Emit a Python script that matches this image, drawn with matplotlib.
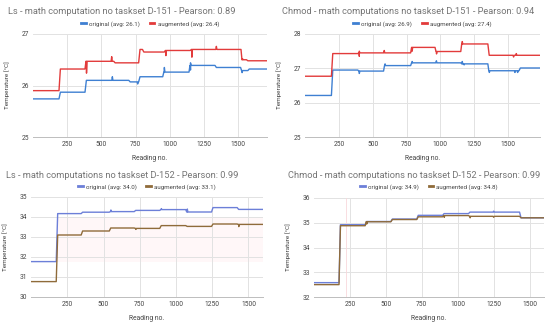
import matplotlib
matplotlib.use("Agg")
import matplotlib.pyplot as plt
import numpy as np

plt.rcParams['font.family'] = ['Roboto', 'DejaVu Sans']

# ---------------- data ----------------
titles = [
    "Ls - math computation no taskset D-151 - Pearson: 0.89",
    "Chmod - math computations no taskset D-151 - Pearson: 0.94",
    "Ls - math computations no taskset D-152 - Pearson: 0.99",
    "Chmod - math computations no taskset D-152 - Pearson: 0.99",
]
orig_labels = ["original (avg: 26.1)", "original (avg: 26.9)",
               "original (avg: 34.0)", "original (avg: 34.9)"]
aug_labels = ["augmented (avg: 26.4)", "augmented (avg: 27.4)",
              "augmented (avg: 33.1)", "augmented (avg: 34.8)"]
x_ends = [1710, 1735, 1600, 1600]
y_limits = [(25, 27), (25, 28), (30, 35), (32, 36)]
x_ticks = [250, 500, 750, 1000, 1250, 1500]

# panel 1 (Ls D-151)
p1_orig_x = [0, 190, 380, 700, 772, 948, 1140, 1330, 1517, 1570]
p1_orig_y = [25.74, 25.87, 26.10, 26.07, 26.17, 26.26, 26.39, 26.35, 26.29, 26.32]
p1_orig_spk_x = [580, 765, 960, 1140, 1150, 1520]
p1_orig_spk_y = [26.17, 26.03, 26.35, 26.30, 26.44, 26.25]
p1_aug_x = [0, 190, 380, 590, 772, 800, 960, 1150, 1520, 1560]
p1_aug_y = [25.90, 26.32, 26.47, 26.44, 26.70, 26.65, 26.68, 26.70, 26.50, 26.48]
p1_aug_spk_x = [380, 575, 960, 1150, 1340, 1530]
p1_aug_spk_y = [26.24, 26.56, 26.58, 26.55, 26.76, 26.52]

# panel 2 (Chmod D-151)
p2_orig_x = [0, 195, 390, 580, 780, 1150, 1350, 1580]
p2_orig_y = [26.21, 26.95, 26.92, 27.08, 27.16, 27.13, 26.93, 27.01]
p2_orig_spk_x = [390, 585, 785, 970, 1150, 1175, 1360, 1550, 1570]
p2_orig_spk_y = [26.85, 27.13, 27.20, 27.22, 27.20, 27.10, 26.88, 26.88, 26.88]
p2_aug_x = [0, 195, 390, 780, 960, 1150, 1350]
p2_aug_y = [26.77, 27.43, 27.45, 27.61, 27.49, 27.71, 27.38]
p2_aug_spk_x = [390, 395, 585, 780, 965, 1155, 1540, 1560]
p2_aug_spk_y = [27.35, 27.50, 27.52, 27.50, 27.42, 27.78, 27.33, 27.43]

# panel 3 (Ls D-152)
p3_orig_x = [0, 174, 346, 540, 712, 888, 1067, 1245, 1422]
p3_orig_y = [31.77, 34.17, 34.24, 34.27, 34.33, 34.37, 34.25, 34.47, 34.38]
p3_orig_spk_x = [540, 890, 1067]
p3_orig_spk_y = [34.35, 34.42, 34.40]
p3_aug_x = [0, 174, 346, 540, 712, 888, 1067, 1245, 1422]
p3_aug_y = [30.77, 33.10, 33.30, 33.45, 33.43, 33.57, 33.53, 33.65, 33.63]
p3_aug_spk_x = [715, 1425]
p3_aug_spk_y = [33.38, 33.52]

# panel 4 (Chmod D-152)
p4_orig_x = [0, 174, 356, 535, 715, 895, 1075, 1430]
p4_orig_y = [32.58, 34.92, 35.05, 35.15, 35.30, 35.37, 35.43, 35.20]
p4_orig_spk_x = [1250]
p4_orig_spk_y = [35.47]
p4_aug_x = [0, 174, 356, 535, 715, 895, 1075, 1430]
p4_aug_y = [32.50, 34.88, 35.04, 35.13, 35.24, 35.29, 35.26, 35.20]
p4_aug_spk_x = [360, 900, 1080, 1250]
p4_aug_spk_y = [34.95, 35.22, 35.20, 35.22]

panels = [
    (p1_orig_x, p1_orig_y, p1_orig_spk_x, p1_orig_spk_y, p1_aug_x, p1_aug_y, p1_aug_spk_x, p1_aug_spk_y),
    (p2_orig_x, p2_orig_y, p2_orig_spk_x, p2_orig_spk_y, p2_aug_x, p2_aug_y, p2_aug_spk_x, p2_aug_spk_y),
    (p3_orig_x, p3_orig_y, p3_orig_spk_x, p3_orig_spk_y, p3_aug_x, p3_aug_y, p3_aug_spk_x, p3_aug_spk_y),
    (p4_orig_x, p4_orig_y, p4_orig_spk_x, p4_orig_spk_y, p4_aug_x, p4_aug_y, p4_aug_spk_x, p4_aug_spk_y),
]
orig_colors = ["#3f80d2", "#3f80d2", "#6c7fd8", "#6c7fd8"]
aug_colors = ["#e23b3b", "#e23b3b", "#8f6b3a", "#8f6b3a"]


def build(bx, by, sx, sy, xend, ramp=10, w=8):
    """Build a step line with short spikes."""
    xs, ys = [], []
    for i in range(len(bx)):
        nxt = bx[i + 1] if i + 1 < len(bx) else xend
        start = bx[i] + (ramp if i > 0 else 0)
        xs.append(start)
        ys.append(by[i])
        for px, pv in sorted(zip(sx, sy)):
            if start <= px < nxt or (px < start and px >= bx[i] - 1 and i > 0):
                p = max(px, start + 1)
                xs += [p - w / 2, p, p + w / 2]
                ys += [by[i], pv, by[i]]
        xs.append(nxt)
        ys.append(by[i])
    order = np.argsort(xs, kind="stable")
    return np.array(xs)[order], np.array(ys)[order]


fig = plt.figure(figsize=(5.5, 3.24), dpi=100)
W, H = 550.0, 324.0
rects = [(33, 34, 267, 137), (305, 34, 540, 137), (31, 197, 263, 297), (314, 198, 544, 297)]
title_pos = [(8, 12), (282, 12), (6, 176), (288, 176)]
legend_y = [24, 24, 187, 187]

grid_c = "#e2e2e2"
text_c = "#444444"
for k in range(4):
    l, t, r, b = rects[k]
    ax = fig.add_axes([l / W, 1 - b / H, (r - l) / W, (b - t) / H])
    ox, oy, osx, osy, axx, ayy, asx, asy = panels[k]
    x1, y1 = build(ox, oy, osx, osy, x_ends[k])
    x2, y2 = build(axx, ayy, asx, asy, x_ends[k])
    if k == 3:
        ax.axvline(225, color="#f8d8dc", lw=0.6, zorder=1)
    if k == 2:
        ax.axvspan(180, x_ends[k], ymin=0.35, ymax=0.8, color="#fff7f8", lw=0, zorder=0)
    l1, = ax.plot(x1, y1, color=orig_colors[k], lw=1.0, zorder=3, label=orig_labels[k])
    l2, = ax.plot(x2, y2, color=aug_colors[k], lw=1.0, zorder=3, label=aug_labels[k])
    ax.set_xlim(0, x_ends[k])
    ax.set_ylim(*y_limits[k])
    ax.set_xticks(x_ticks)
    ax.set_yticks(np.arange(y_limits[k][0], y_limits[k][1] + 1))
    ax.grid(True, color=grid_c, lw=0.7)
    ax.set_axisbelow(True)
    for s in ["top", "right", "left"]:
        ax.spines[s].set_visible(False)
    ax.spines["bottom"].set_color("#bdbdbd")
    ax.spines["bottom"].set_linewidth(0.7)
    ax.tick_params(length=0, labelsize=4.8, colors=text_c, pad=3)
    ax.set_xlabel("Reading no.", fontsize=4.9, color=text_c, labelpad=5)
    ax.set_ylabel("Temperature [°C]", fontsize=4.6, color=text_c, labelpad=8)
    tx, ty = title_pos[k]
    fig.text(tx / W, 1 - ty / H, titles[k], fontsize=6.7, color="#757575",
             ha="left", va="center")
    fig.legend(handles=[l1, l2], loc="center", ncol=2,
               bbox_to_anchor=(((l + r) / 2) / W, 1 - legend_y[k] / H),
               frameon=False, fontsize=4.4, handlelength=0.8, handletextpad=0.5,
               columnspacing=1.6, labelcolor=text_c)
    for lh in fig.legends[-1].get_lines():
        lh.set_linewidth(2.0)

fig.savefig("out.png", dpi=100, facecolor="white")
